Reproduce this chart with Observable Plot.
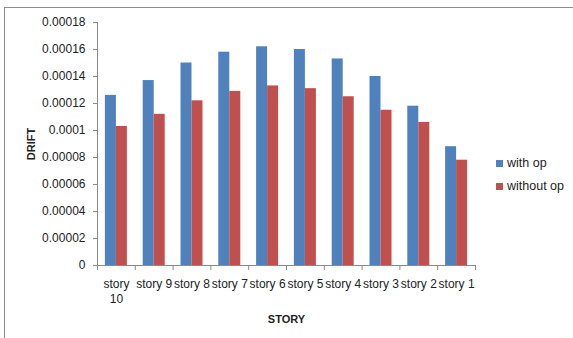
<!DOCTYPE html>
<html><head><meta charset="utf-8">
<script src="https://cdn.jsdelivr.net/npm/d3@7"></script>
<script src="https://cdn.jsdelivr.net/npm/@observablehq/plot@0.6"></script>
<style>
body{margin:0;background:#fff;}
#wrap{position:relative;width:573px;height:338px;overflow:hidden;font-family:"Liberation Sans",Arial,sans-serif;}
#wrap svg{position:absolute;left:0;top:0;}
#border{position:absolute;left:4px;top:7px;width:600px;height:400px;border-top:1px solid #8c8c8c;border-left:1px solid #8c8c8c;pointer-events:none;}
#legend{position:absolute;left:496px;top:152px;font-size:12.5px;color:#222;line-height:23px;}
#legend .sw{display:inline-block;width:7px;height:7px;margin-right:4px;vertical-align:0px;}
g[aria-label="x-axis label"] text, g[aria-label="y-axis label"] text{font-weight:bold;font-size:11px;}
</style>
</head><body>
<div id="wrap"></div>
<script>
const categories = ["story 10","story 9","story 8","story 7","story 6","story 5","story 4","story 3","story 2","story 1"];
const withOp    = [0.000126,0.000137,0.000150,0.000158,0.000162,0.000160,0.000153,0.000140,0.000118,0.000088];
const withoutOp = [0.000103,0.000112,0.000122,0.000129,0.000133,0.000131,0.000125,0.000115,0.000106,0.000078];
const seriesNames = ["with op","without op"];
const seriesColors = ["#4F81BD","#C0504D"];
const yTicks = [0,0.00002,0.00004,0.00006,0.00008,0.0001,0.00012,0.00014,0.00016,0.00018];

const W = 573, H = 338, mL = 97, mR = 98, mT = 22, mB = 73;
const bw = (W - mL - mR) / categories.length;
const plotH = H - mT - mB;
const barW = 11;
const side = (bw - 2 * barW) / 2;
const axisColor = "#8a8a8a";

const rows = categories.flatMap((c, i) => [
  {category: c, series: seriesNames[0], value: withOp[i]},
  {category: c, series: seriesNames[1], value: withoutOp[i]}
]);

const wrapLabel = d => d.length > 7 ? d.replace(" ", "\n") : d;

const chart = Plot.plot({
  width: W, height: H,
  marginLeft: mL, marginRight: mR, marginTop: mT, marginBottom: mB,
  style: {fontFamily: '"Liberation Sans", Arial, sans-serif', fontSize: "12px", color: "#222", background: "transparent", overflow: "visible"},
  x: {domain: categories, padding: 0, round: false, axis: null},
  y: {domain: [0, 0.00018], axis: null},
  color: {domain: seriesNames, range: seriesColors},
  marks: [
    Plot.barY(rows.filter(d => d.series === seriesNames[0]), {x: "category", y: "value", fill: "series", insetLeft: side, insetRight: side + barW}),
    Plot.barY(rows.filter(d => d.series === seriesNames[1]), {x: "category", y: "value", fill: "series", insetLeft: side + barW, insetRight: side}),
    Plot.ruleY([0], {stroke: axisColor}),
    Plot.ruleX([categories[0]], {x: d => d, dx: -bw / 2, stroke: axisColor}),
    Plot.ruleX([categories[0]], {x: d => d, dx: -bw / 2, stroke: axisColor, insetTop: plotH, insetBottom: -5}),
    Plot.ruleX(categories, {x: d => d, dx: bw / 2, stroke: axisColor, insetTop: plotH, insetBottom: -5}),
    Plot.axisY({ticks: yTicks, tickSize: 4, tickPadding: 8, stroke: axisColor, tickFormat: d => String(d), label: "DRIFT", labelArrow: false, labelAnchor: "center", labelOffset: 70, fill: "#222"}),
    Plot.axisX({tickSize: 0, tickPadding: 12, tickFormat: wrapLabel, lineHeight: 1.25, label: "STORY", labelArrow: false, labelAnchor: "center", labelOffset: 57, fill: "#222"})
  ]
});

const wrap = document.getElementById("wrap");
wrap.appendChild(chart);
const border = document.createElement("div");
border.id = "border";
wrap.appendChild(border);

const legend = document.createElement("div");
legend.id = "legend";
seriesNames.forEach((s, i) => {
  const row = document.createElement("div");
  const sw = document.createElement("span");
  sw.className = "sw";
  sw.style.background = seriesColors[i];
  row.appendChild(sw);
  row.appendChild(document.createTextNode(s));
  legend.appendChild(row);
});
wrap.appendChild(legend);
</script>
</body></html>
